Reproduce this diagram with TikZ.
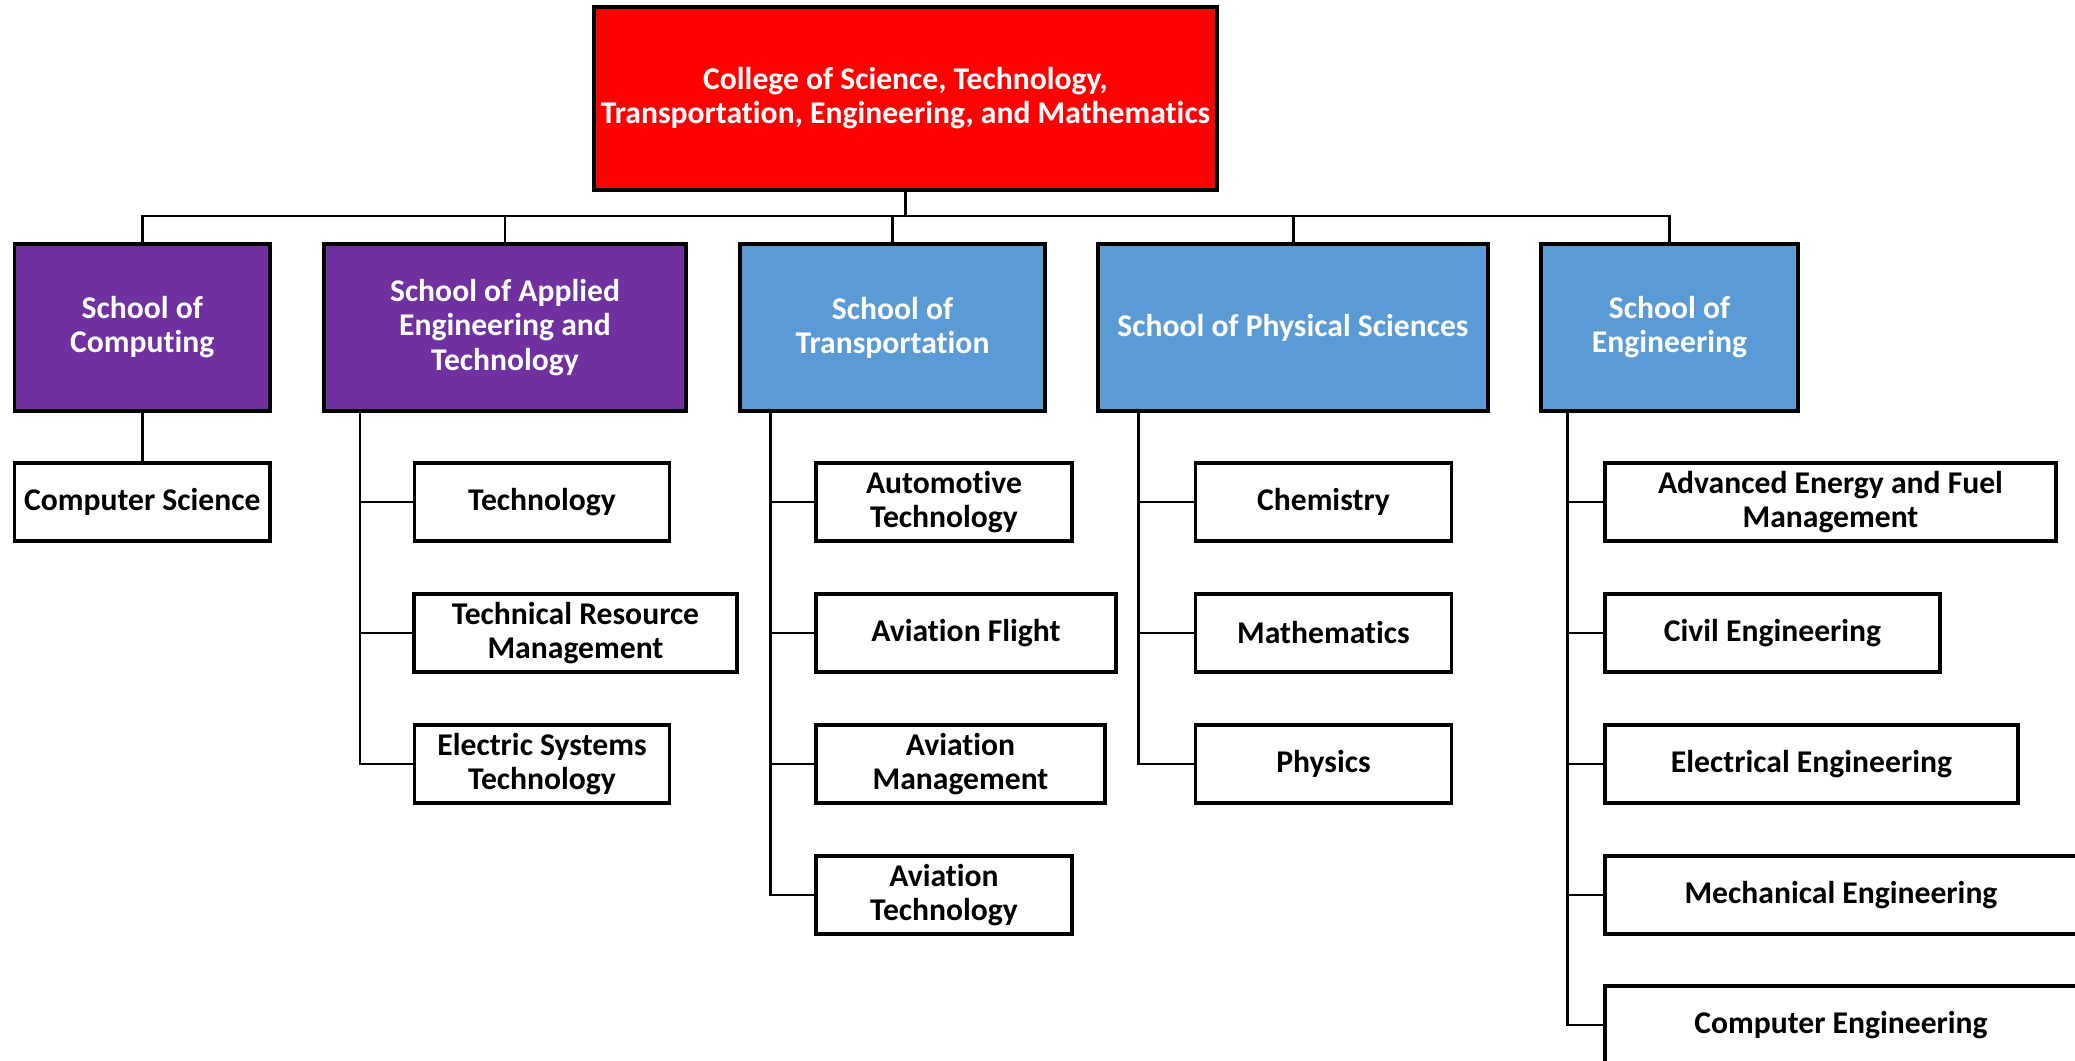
\documentclass[tikz,border=0pt]{standalone}
\usepackage{fontspec}
\setmainfont{Carlito}[Ligatures=NoCommon]
\usepackage{tikz}
\usetikzlibrary{positioning,calc}
\definecolor{collegered}{HTML}{FF0000}
\definecolor{schoolpurple}{HTML}{7030A0}
\definecolor{schoolblue}{HTML}{5B9BD5}

\begin{document}
\begin{tikzpicture}[x=0.01cm,y=-0.01cm,
	box/.style={draw=black,line width=1pt,inner sep=0pt,align=center,font=\fontsize{9}{9.7}\selectfont\bfseries},
	college/.style={box,fill=collegered,text=white,minimum width=6.23cm,minimum height=1.83cm},
	school/.style={box,text=white,minimum height=1.67cm},
	leaf/.style={box,fill=white,text=black,minimum height=0.78cm},
	link/.style={draw=black,line width=0.85pt}]
	\useasboundingbox (0,0) rectangle (2075,1061);
	\clip (0,0) rectangle (2075,1061);
	% college
	\node (top) at (905.5,98.5) [college] {College of Science, Technology,\\Transportation, Engineering, and Mathematics};
	% schools
	\node (comp) at (142.3,327.5) [school,fill=schoolpurple,minimum width=2.55cm] {School of\\Computing};
	\node (appl) at (505,327.5) [school,fill=schoolpurple,minimum width=3.62cm] {School of Applied\\Engineering and\\Technology};
	\node (trans) at (892.5,327.5) [school,fill=schoolblue,minimum width=3.05cm] {School of\\Transportation};
	\node (phys) at (1293,327.5) [school,fill=schoolblue,minimum width=3.9cm] {School of Physical Sciences};
	\node (eng) at (1669.5,327.5) [school,fill=schoolblue,minimum width=2.57cm] {School of\\Engineering};
	% departments
	\node (cs) at (142.3,502) [leaf,minimum width=2.55cm] {Computer Science};
	\node (tech) at (542,502) [leaf,minimum width=2.55cm] {Technology};
	\node (trm) at (575.5,633) [leaf,minimum width=3.23cm] {Technical Resource\\Management};
	\node (est) at (542,764) [leaf,minimum width=2.55cm] {Electric Systems\\Technology};
	\node (auto) at (944,502) [leaf,minimum width=2.56cm] {Automotive\\Technology};
	\node (avfl) at (966,633) [leaf,minimum width=3cm] {Aviation Flight};
	\node (avmg) at (960.5,764) [leaf,minimum width=2.89cm] {Aviation\\Management};
	\node (avtc) at (944,895) [leaf,minimum width=2.56cm] {Aviation\\Technology};
	\node (chem) at (1323.5,502) [leaf,minimum width=2.56cm] {Chemistry};
	\node (math) at (1323.5,633) [leaf,minimum width=2.56cm] {Mathematics};
	\node (phy) at (1323.5,764) [leaf,minimum width=2.56cm] {Physics};
	\node (aefm) at (1830.5,502) [leaf,minimum width=4.51cm] {Advanced Energy and Fuel\\Management};
	\node (civ) at (1772.5,633) [leaf,minimum width=3.35cm] {Civil Engineering};
	\node (elec) at (1811.5,764) [leaf,minimum width=4.13cm] {Electrical Engineering};
	\node (mech) at (1841,895) [leaf,minimum width=4.72cm] {Mechanical Engineering};
	\node (ce) at (1841,1025) [leaf,minimum width=4.72cm] {Computer Engineering};
	% bus and rails
	\coordinate (bus) at (905.5,216);
	\coordinate (railA) at (360,411);
	\coordinate (railT) at (770.5,411);
	\coordinate (railP) at (1138,411);
	\coordinate (railE) at (1567.5,411);
	\draw[link] (top.south) -- (bus);
	\foreach \s in {comp,appl,trans,phys,eng}
		\draw[link] (\s.north) |- (bus);
	\draw[link] (comp.south) -- (cs.north);
	\foreach \d in {tech,trm,est}
		\draw[link] (railA) |- (\d.west);
	\foreach \d in {auto,avfl,avmg,avtc}
		\draw[link] (railT) |- (\d.west);
	\foreach \d in {chem,math,phy}
		\draw[link] (railP) |- (\d.west);
	\foreach \d in {aefm,civ,elec,mech,ce}
		\draw[link] (railE) |- (\d.west);
\end{tikzpicture}
\end{document}
